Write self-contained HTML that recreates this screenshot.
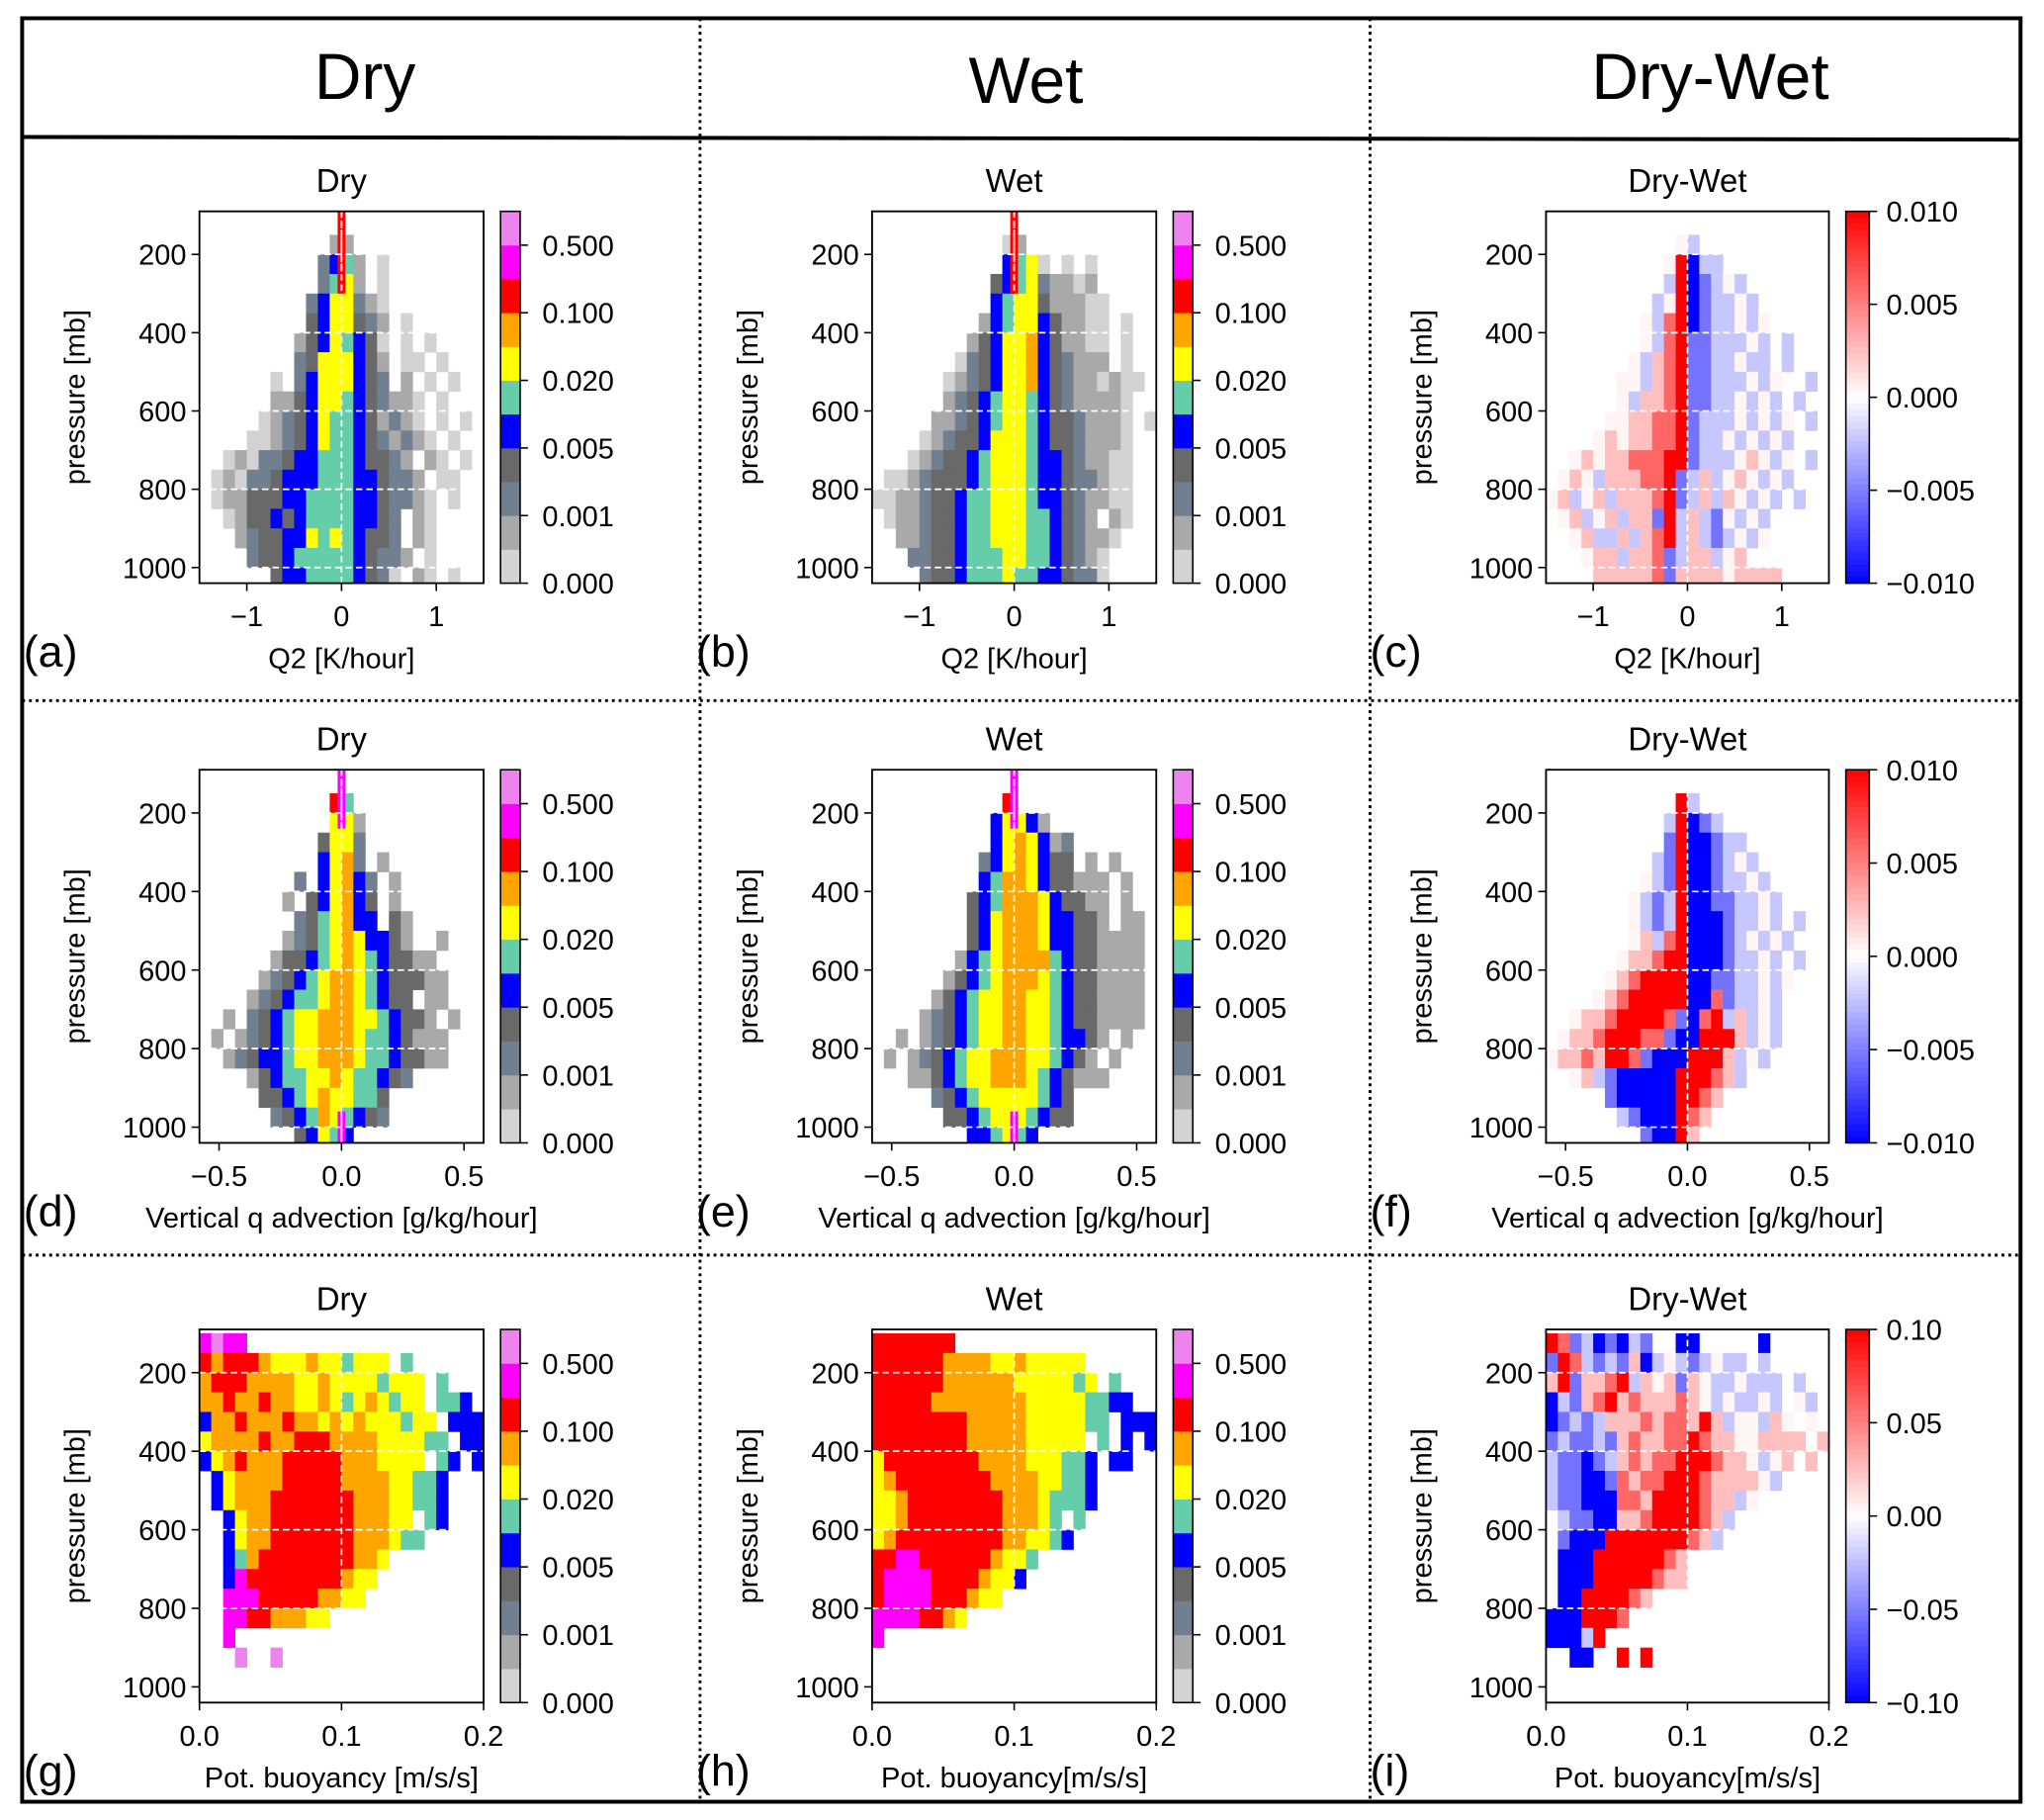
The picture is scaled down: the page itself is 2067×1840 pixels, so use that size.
<!DOCTYPE html>
<html><head><meta charset="utf-8"><style>
html,body{margin:0;padding:0;background:#fff;}
svg{display:block;font-family:"Liberation Sans",sans-serif;}
</style></head><body>
<svg id="fig" width="2067" height="1840" viewBox="0 0 1568 1395" preserveAspectRatio="none" xmlns="http://www.w3.org/2000/svg">
<rect x="0" y="0" width="1568" height="1395" fill="#fff"/>
<g fill="none" stroke="#000">
<rect x="17" y="14" width="1533" height="1367" stroke-width="3"/>
<line x1="17" y1="105" x2="1550" y2="107" stroke-width="3"/>
<line x1="537" y1="14" x2="537" y2="1381" stroke-width="2.2" stroke-dasharray="2.2,3"/>
<line x1="1051" y1="14" x2="1051" y2="1381" stroke-width="2.2" stroke-dasharray="2.2,3"/>
<line x1="17" y1="537" x2="1550" y2="537" stroke-width="2.2" stroke-dasharray="2.2,3"/>
<line x1="17" y1="962" x2="1550" y2="962" stroke-width="2.2" stroke-dasharray="2.2,3"/>
</g>
<text x="280" y="76" font-size="50" text-anchor="middle">Dry</text>
<text x="787" y="79" font-size="50" text-anchor="middle">Wet</text>
<text x="1312" y="76" font-size="50" text-anchor="middle">Dry-Wet</text>
</svg>
<script>
// ---- data ----
const pressureBins = [100,150,200,250,300,350,400,450,500,550,600,650,700,750,800,850,900,950,1000];
const pressureTicks = [200,400,600,800,1000];
const seqTickLabels = ["0.500","0.100","0.020","0.005","0.001","0.000"];
const seqColors = ["#d3d3d3","#a9a9a9","#708090","#696969","#0000ff","#66cdaa","#ffff00","#ffa500","#ff0000","#ff00ff","#ee82ee"];
const seqCodes = ".123456789mp";
const divCodes = ["B","b","c","w","r","s","R"];
const divValues = [-1,-0.55,-0.22,0.04,0.25,0.6,1];
const rowXTicks = [[-1,0,1],[-0.5,0,0.5],[0,0.1,0.2]];
const rowXTickLabels = [["\u22121","0","1"],["\u22120.5","0.0","0.5"],["0.0","0.1","0.2"]];
const rowXRange = [[-1.5,1.5],[-0.58,0.58],[0,0.2]];
const rowXLabels = [["Q2 [K/hour]","Q2 [K/hour]","Q2 [K/hour]"],
 ["Vertical q advection [g/kg/hour]","Vertical q advection [g/kg/hour]","Vertical q advection [g/kg/hour]"],
 ["Pot. buoyancy [m/s/s]","Pot. buoyancy[m/s/s]","Pot. buoyancy[m/s/s]"]];
const divTickLabels = [["0.010","0.005","0.000","\u22120.005","\u22120.010"],["0.010","0.005","0.000","\u22120.005","\u22120.010"],["0.10","0.05","0.00","\u22120.05","\u22120.10"]];
const panelLetters = ["(a)","(b)","(c)","(d)","(e)","(f)","(g)","(h)","(i)"];
const colTitles = ["Dry","Wet","Dry-Wet"];
// center lines: [row, col, value, pTop, pBottom, color]
const centerLines = [[0,0,0,90,300,"#ff0000"],[0,1,0,90,300,"#ff0000"],[1,0,0,90,240,"#ff00ff"],[1,1,0,90,240,"#ff00ff"],[1,0,0,960,1040,"#ff00ff"],[1,1,0,960,1040,"#ff00ff"]];
const gridA = ["........................","...........22...........","..........3562.1........","..........3672.1........",".........3577321........",".........4577432.1......","........24576541.1.1....","........34777542.11.1...","......1.35777543.2.1.1..","......2245776543221.1...",".....12345766542321.1.1.","....1123457665432321.1..","..1213345566654432.21.1.",".121334555666554332.11..",".1224445566665543321.1..","..124454566665543.21....","...23445576765443.21....","....34456666654332.1....","......45566665431.21.1.."];
const gridB = ["........................","...........12...........","...........5671.1.1.....","..........456732212.....","..........5677422211....",".........25677542211.1..","........245778542211.1..",".......1345778543222.1..","......12345778543221211.","......2345677654322221..",".....22345677654432221.1","....123445777654432221..","...1234456777655432211..",".112344456777655433211..","1122344566777655432211..",".122344566777665432.21..","..2234456677766543221...","...33445666776654321....","....3445666766554331...."];
const gridC = ["........................","...........wc...........","..........wRBcc.........","..........cRBbcwc.......",".........cwRBbccwc......","........wcsRBbccwcw.....","........wcsRbbcccwc.c...",".......wcrsRbbccwcc.c...","......wwcrsRbbcccwcw..c.","......wcrrsRbbccwcwc.c..",".....wwrrssRbcccwcwcw.c.","....wrwrrssRbccwcwcwc...","..wrwrrsssRRbcccwrwcw.c.",".wrwcrrrssRbcrcwrwcwc...","wrcwrcrrrsRbcrcrwcwc.c..",".wrcwrcrrbRcrcbwcwc.....","..wrccrcrsRcrcbcwcw.....","...wrrcrrsbcrrcwr.......","....rrrrrsbrrrrwrrrr...."];
const gridD = ["........................","...........96...........","...........772..........","..........4773..........","..........5783.2........","........3.57853.2.......",".......2.457854.2.......","........3467855.42......",".......23467875542..2...","......24456787654422....",".....2345678876544422...","....23456678876544.22...","..2.3456778887765442.2..",".2.234567788876654222...","..2345567788876654422...","....24566778766543......",".....44567877664........","......3456876543........","........45765..........."];
const gridE = ["........................","...........9............","..........57752.........","..........5787523.......",".........35787544.2.2...",".........56887544222.2..","........456888754422.2..","........457888755442.22.","........457888755442222.",".......2567888865442222.","......24567888765442222.",".....245677887765442222.","....2345677887765442222.","..2.2345677887765542.2..",".2.2345677888776542.2...","...22456778887654222....",".....345677777654.......","......44567776544.......","........556765.........."];
const gridF = ["........................","...........Rc...........","..........cRBbc.........","..........bRBBbcc.......",".........cbRBBbcwc......","........wcbRBBbccwc.....",".......wcbcRBBbbccwc....",".......wcbcRBBBbccwc.c..",".......wrcsRBBBbcwcwc...","......wrrsRRBBBbccwc.c..",".....wrsRRRRBBbbccwcw...","....wrsRRRRRBBsbccwc....","..wrrsRRRRsbBsRcrcwc....",".wrrsRRRssbBBRRRrcwc....","wrrsrRRsbBBBRRRrcwc.....","..wrcbBBBBBRRRsrc.......",".....bBBBBBRRsr.........","......cbBBBRsr..........","........bBBRr..........."];
const gridG = ["mpmm....................","9899987778776777.6......","8999888877877776777.6...","8898898877876787677.665.","58898889887878777677.555","788889889998888777766.55","5789888999998887777.65.5",".57888899999888877665...",".57888999999988877665...","..5788999999988877.65...","..57889999999888766.....","..56899999999887........","..5m99999999877.........","..mmm999998877..........","..mm9988877.............","..m.....................","...p..p.................","........................","........................"];
const gridH = ["9999999.................","999999888877877777......","9999998888887777767.6...","9999988888888777776655..","99999999888887777766.555","999999998888877777.6.5.5","7999999998888777665.55..","7899999999888877665.....","7789999999988876665.....","7789999999988876.6......","78999999999887765.......","99mm9999998776..........","9mmmm99998775...........","9mmmm999877.............","mmmm9987................","m.......................","........................","........................","........................"];
const gridI = ["RsbcBbBcb..BB.....B.....","bRscbcbrBcwcbcwcc.c.....","rRbrrsRcrwrbrwccwccc.c..","BcbrsRrsrrrsrwcwccwc.wc.","BbcbcrrrsrssrRrcwwcrw.w.","bcbbcbrsrrssRsrrwwrrrr.r","cbbBbcrsrssRRRsrrwcwr.r.","cbbBBbsrssRRRsrrrrwc....","cbbBBBssrRRRRsrrcw......",".cbbBBrrsRRRRsrc........",".bBBBRRRRRRRsrc.........",".BBBRRRRRRsr............",".BBBRRRRRsrr............",".BBRRRRsr...............","BBBRRRs.................","BBBcR...................","..BB..R.R...............","........................","........................"];
const grids = [[gridA,gridB,gridC],[gridD,gridE,gridF],[gridG,gridH,gridI]];

// ---- layout ----
const NS="http://www.w3.org/2000/svg";
const svg=document.getElementById('fig');
const colX=[[153,371],[669,887],[1186,1403]];
const cbX=[[384,399],[900,915],[1416,1434]];
const rowY=[[162,447],[590,876],[1019,1305]];
const pMin=90,pMax=1040,binH=50;
function mk(tag,attrs,parent){const e=document.createElementNS(NS,tag);for(const k in attrs)e.setAttribute(k,attrs[k]);(parent||svg).appendChild(e);return e;}
function yScale(r,p){const [t,b]=rowY[r];return t+(p-pMin)/(pMax-pMin)*(b-t);}
function xScale(r,c,v){const [l,rr]=colX[c];const [a,b]=rowXRange[r];return l+(v-a)/(b-a)*(rr-l);}
function bwr(v){v=Math.max(-1,Math.min(1,v));let R,G,B;if(v<0){R=G=Math.round((1+v)*255);B=255;}else{R=255;G=B=Math.round((1-v)*255);}return `rgb(${R},${G},${B})`;}

for(let r=0;r<3;r++){for(let c=0;c<3;c++){
  const g=mk('g',{});
  
  
  const [l,rr]=colX[c],[t,b]=rowY[r];
  const clipId='clip'+r+c;
  const cp=mk('clipPath',{id:clipId},g);mk('rect',{x:l,y:t,width:rr-l,height:b-t},cp);
  const cells=mk('g',{'clip-path':'url(#'+clipId+')'},g);
  const grid=grids[r][c];const ncol=grid[0].length;const [xa,xb]=rowXRange[r];const dx=(xb-xa)/ncol;
  for(let i=0;i<grid.length;i++){for(let j=0;j<ncol;j++){
    const ch=grid[i][j];if(ch==='.')continue;
    let fill;
    if(c===2){const k=divCodes.indexOf(ch);if(k<0)continue;fill=bwr(divValues[k]);}
    else{const k=seqCodes.indexOf(ch);if(k<1)continue;fill=seqColors[k-1];}
    const x0=xScale(r,c,xa+j*dx),x1=xScale(r,c,xa+(j+1)*dx);
    const y0=yScale(r,pressureBins[i]),y1=yScale(r,pressureBins[i]+binH);
    const cell=mk('rect',{x:x0.toFixed(2),y:y0.toFixed(2),width:(x1-x0+0.3).toFixed(2),height:(y1-y0+0.3).toFixed(2),fill:fill},cells);
    
    
  }}
  centerLines.forEach(cl=>{if(cl[0]===r&&cl[1]===c){const x=xScale(r,c,cl[2]);
    mk('rect',{x:x-3,y:yScale(r,cl[3]),width:6,height:yScale(r,cl[4])-yScale(r,cl[3]),fill:cl[5]},cells);
    mk('line',{x1:x,x2:x,y1:yScale(r,cl[3]),y2:yScale(r,cl[4]),stroke:'#fff','stroke-width':1.3,'stroke-dasharray':'4,3'},cells);}});
  pressureTicks.forEach(p=>{if(r===2&&p===1000)return;mk('line',{x1:l,x2:rr,y1:yScale(r,p),y2:yScale(r,p),stroke:'#fff','stroke-width':1.3,'stroke-dasharray':'5,3'},cells);});
  if(r<2) mk('line',{x1:xScale(r,c,0),x2:xScale(r,c,0),y1:t,y2:b,stroke:'#fff','stroke-width':1.3,'stroke-dasharray':'5,3'},cells);
  else mk('line',{x1:xScale(r,c,0.1),x2:xScale(r,c,0.1),y1:t,y2:b,stroke:'#fff','stroke-width':1.3,'stroke-dasharray':'5,3'},cells);
  mk('rect',{x:l,y:t,width:rr-l,height:b-t,fill:'none',stroke:'#000','stroke-width':1.4},g);
  pressureTicks.forEach(p=>{const y=yScale(r,p);mk('line',{x1:l-6,x2:l,y1:y,y2:y,stroke:'#000','stroke-width':1.2},g);
    const tx=mk('text',{x:l-10,y:y+8,'font-size':22,'text-anchor':'end'},g);tx.textContent=p;});
  rowXTicks[r].forEach((v,k)=>{const x=xScale(r,c,v);mk('line',{x1:x,x2:x,y1:b,y2:b+6,stroke:'#000','stroke-width':1.2},g);
    const tx=mk('text',{x:x,y:b+33,'font-size':22,'text-anchor':'middle'},g);tx.textContent=rowXTickLabels[r][k];});
  const tt=mk('text',{x:(l+rr)/2,y:t-15,'font-size':25,'text-anchor':'middle'},g);tt.textContent=colTitles[c];
  
  const xl=mk('text',{x:(l+rr)/2,y:b+65,'font-size':22,'text-anchor':'middle'},g);xl.textContent=rowXLabels[r][c];
  
  const yc=(t+b)/2;const yl=mk('text',{x:l-88,y:yc,'font-size':22,'text-anchor':'middle',transform:`rotate(-90 ${l-88} ${yc})`},g);yl.textContent='pressure [mb]';
  
  const pl=mk('text',{x:l-135,y:b+64,'font-size':34},g);pl.textContent=panelLetters[r*3+c];
  
  const [cl,cr]=cbX[c];const cb=mk('g',{},g);
  
  if(c<2){const n=seqColors.length;const h=(b-t)/n;
    for(let k=0;k<n;k++){mk('rect',{x:cl,y:b-(k+1)*h,width:cr-cl,height:h+0.3,fill:seqColors[k]},cb);}
    seqTickLabels.forEach((s,k)=>{const y=t+h+k*2*h;mk('line',{x1:cr,x2:cr+6,y1:y,y2:y,stroke:'#000','stroke-width':1.2},cb);
      const tx=mk('text',{x:cr+17,y:y+8,'font-size':22},cb);tx.textContent=s;});
  } else {const steps=60;const h=(b-t)/steps;
    for(let k=0;k<steps;k++){const v=1-2*(k+0.5)/steps;mk('rect',{x:cl,y:t+k*h,width:cr-cl,height:h+0.4,fill:bwr(v)},cb);}
    divTickLabels[r].forEach((s,k)=>{const y=t+k*(b-t)/4;mk('line',{x1:cr,x2:cr+6,y1:y,y2:y,stroke:'#000','stroke-width':1.2},cb);
      const tx=mk('text',{x:cr+13,y:y+8,'font-size':22},cb);tx.textContent=s;});}
  mk('rect',{x:cl,y:t,width:cr-cl,height:b-t,fill:'none',stroke:'#000','stroke-width':1.2},cb);
}}
</script>
</body></html>
